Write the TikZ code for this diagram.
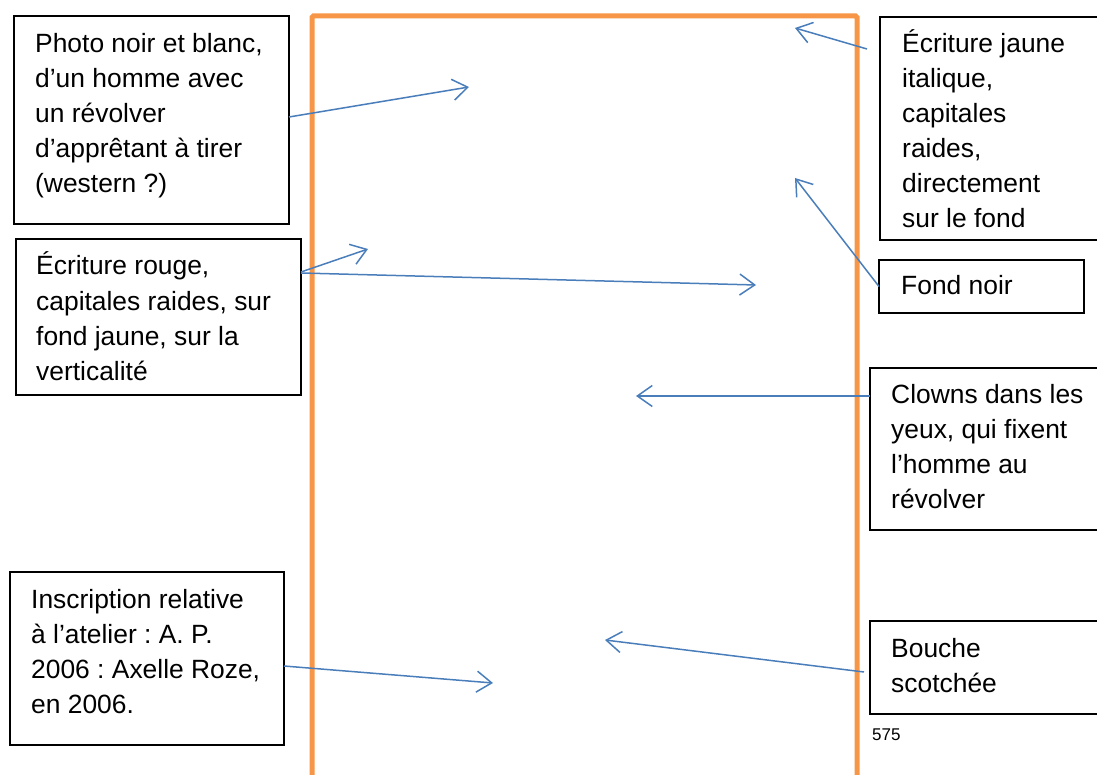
\documentclass[tikz,border=0pt]{standalone}
\usepackage{fontspec}
\setmainfont{Liberation Sans}
\usetikzlibrary{arrows.meta}
\definecolor{frameorange}{HTML}{F79646}
\definecolor{arrowblue}{HTML}{4A7EBB}
\frenchspacing
\begin{document}
\begin{tikzpicture}[x=1pt,y=-1pt,
  box/.style={draw=black,line width=1.6pt,anchor=north west,inner sep=0pt,outer sep=0pt},
  txt/.style={anchor=base west,align=left,inner sep=0pt,font=\fontsize{26.4}{35}\selectfont\frenchspacing},
  arr/.style={draw=arrowblue,line width=1.5pt,-{Straight Barb[length=15pt,width=21pt,line width=1.5pt]}},
  frame/.style={draw=frameorange,line width=5pt,rounded corners=1.5pt}]
\useasboundingbox (0,0) rectangle (1097,775);
% orange frame
\draw[frame] (312,800) -- (312,16) -- (857,16) -- (857,800);
% boxes
\node[box,minimum width=275pt,minimum height=208pt] (b1) at (14,16) {};
\node[box,minimum width=230pt,minimum height=223pt] (b2) at (880,17) {};
\node[box,minimum width=285pt,minimum height=156pt] (b3) at (16,239) {};
\node[box,minimum width=205pt,minimum height=53pt] (b4) at (879,260) {};
\node[box,minimum width=240pt,minimum height=162pt] (b5) at (870,368) {};
\node[box,minimum width=274pt,minimum height=173pt] (b6) at (10,572) {};
\node[box,minimum width=240pt,minimum height=93pt] (b7) at (870,621) {};
% texts (anchored at the baseline of their last line)
\node[txt] (t1) at (35,193) {Photo noir et blanc,\\d’un homme avec\\un révolver\\d’apprêtant à tirer\\(western ?)};
\node[txt] (t2) at (902,228) {Écriture jaune\\italique,\\capitales\\raides,\\directement\\sur le fond};
\node[txt] (t3) at (36,380) {Écriture rouge,\\capitales raides, sur\\fond jaune, sur la\\verticalité};
\node[txt] (t4) at (901,295) {Fond noir};
\node[txt] (t5) at (891,508) {Clowns dans les\\yeux, qui fixent\\l’homme au\\révolver};
\node[txt] (t6) at (31,713) {Inscription relative\\à l’atelier : A. P.\\2006 : Axelle Roze,\\en 2006.};
\node[txt] (t7) at (891,692) {Bouche\\scotchée};
\node[anchor=base west,inner sep=0pt,font=\fontsize{17}{20}\selectfont] (pg) at (872,740) {575};
% arrow tips
\coordinate (h1) at (469,87);
\coordinate (h2) at (795,28);
\coordinate (h3) at (368,249);
\coordinate (h4) at (756,285);
\coordinate (h5) at (795,178);
\coordinate (h6) at (636,396);
\coordinate (h7) at (493,683);
\coordinate (h8) at (605,640);
% arrows
\draw[arr] ([yshift=3pt]b1.east) -- (h1);
\draw[arr] ([xshift=-13pt,yshift=-32pt]b2.north west) -- (h2);
\draw[arr] ([yshift=-33pt]b3.north east) -- (h3);
\draw[arr] ([yshift=-34pt]b3.north east) -- (h4);
\draw[arr] (b4.west) -- (h5);
\draw[arr] ([yshift=-28pt]b5.north west) -- (h6);
\draw[arr] ([yshift=-94pt]b6.north east) -- (h7);
\draw[arr] ([xshift=-6pt,yshift=-51pt]b7.north west) -- (h8);
\end{tikzpicture}
\end{document}
